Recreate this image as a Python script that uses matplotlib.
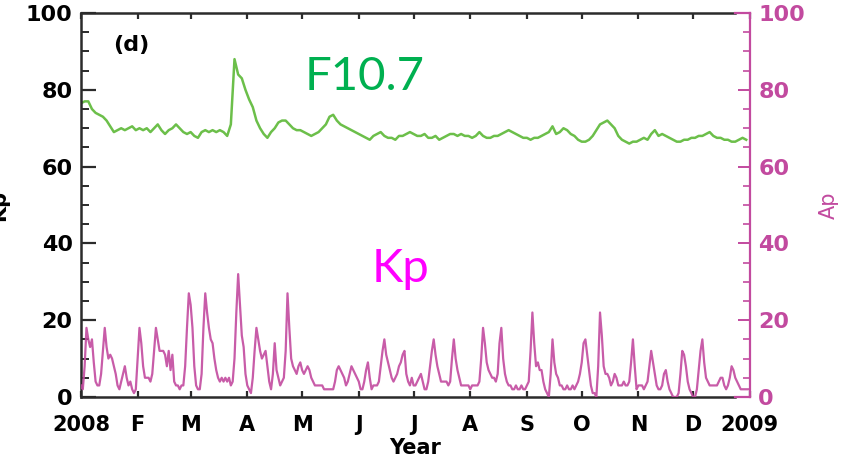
import numpy as np
import matplotlib
matplotlib.use("Agg")
import matplotlib.pyplot as plt

# daily Ap index for 2008, starting 1 Jan
ap = [3, 2, 8, 18, 15, 13, 15, 9, 4, 3, 3, 6, 12, 18, 13, 10, 11, 10, 8, 6,
      3, 2, 4, 6, 8, 5, 3, 4, 2, 1, 2, 10, 18, 14, 8, 5, 5, 5, 4, 6,
      12, 18, 15, 12, 12, 12, 11, 8, 12, 7, 11, 4, 3, 3, 2, 3, 3, 8, 18, 27,
      24, 18, 8, 3, 2, 2, 6, 18, 27, 22, 18, 15, 14, 10, 7, 5, 4, 5, 4, 5,
      4, 5, 3, 4, 10, 22, 32, 24, 16, 13, 6, 3, 2, 1, 5, 12, 18, 15, 12, 10,
      11, 12, 8, 4, 2, 6, 14, 7, 5, 3, 4, 5, 12, 27, 18, 10, 8, 7, 6, 8,
      9, 7, 6, 7, 8, 7, 5, 4, 3, 3, 3, 3, 3, 2, 2, 2, 2, 2, 2, 4,
      7, 8, 7, 6, 5, 3, 4, 6, 8, 7, 6, 5, 4, 2, 2, 4, 7, 9, 5, 2,
      3, 3, 3, 4, 8, 12, 15, 11, 9, 7, 5, 4, 5, 6, 8, 9, 11, 12, 6, 4,
      3, 5, 3, 3, 4, 5, 6, 4, 2, 2, 4, 8, 12, 15, 11, 8, 6, 4, 4, 4,
      4, 3, 4, 10, 15, 10, 7, 5, 3, 3, 3, 3, 3, 2, 3, 3, 3, 3, 4, 10,
      18, 14, 9, 7, 6, 5, 5, 4, 6, 14, 18, 10, 6, 4, 3, 3, 2, 2, 3, 2,
      2, 3, 2, 2, 3, 4, 12, 22, 14, 8, 9, 7, 7, 4, 2, 1, 0, 6, 15, 9,
      6, 5, 3, 3, 2, 2, 3, 2, 2, 3, 2, 3, 4, 6, 9, 14, 15, 11, 7, 3,
      1, 1, 0, 8, 22, 16, 8, 6, 6, 5, 3, 4, 6, 5, 3, 3, 3, 4, 3, 3,
      4, 9, 15, 8, 2, 3, 3, 3, 2, 3, 4, 8, 12, 9, 6, 3, 2, 2, 3, 6,
      7, 4, 2, 1, 0, 0, 0, 1, 6, 12, 11, 8, 4, 2, 1, 0, 0, 2, 7, 12,
      15, 9, 5, 4, 3, 3, 3, 3, 3, 4, 5, 5, 3, 2, 3, 5, 8, 7, 5, 4,
      3, 2, 2, 2, 2, 2]

# F10.7 solar flux, every second day
f107 = [76.5, 77, 77, 75, 74, 73.5, 73, 72, 70.5, 69, 69.5, 70, 69.5, 70, 70.5, 69.5,
        70, 69.5, 70, 69, 70, 71, 69.5, 68.5, 69.5, 70, 71, 70, 69, 68.5, 69, 68,
        67.5, 69, 69.5, 69, 69.5, 69, 69.5, 69, 68, 71, 88, 84, 83, 80, 77.5, 75.5,
        72, 70, 68.5, 67.5, 69, 70, 71.5, 72, 72, 71, 70, 69.5, 69.5, 69, 68.5, 68,
        68.5, 69, 70, 71, 73, 73.5, 72, 71, 70.5, 70, 69.5, 69, 68.5, 68, 67.5, 67,
        68, 68.5, 69, 68, 67.5, 67.5, 67, 68, 68, 68.5, 69, 68.5, 68, 68, 68.5, 67.5,
        67.5, 68, 67, 67.5, 68, 68.5, 68.5, 68, 68.5, 68, 68, 67.5, 68, 69, 68, 67.5,
        67.5, 68, 68, 68.5, 69, 69.5, 69, 68.5, 68, 67.5, 67.5, 67, 67.5, 67.5, 68, 68.5,
        69, 70.5, 68.5, 69, 70, 69.5, 68.5, 68, 67, 66.5, 66.5, 67, 68, 69.5, 71, 71.5,
        72, 71, 70, 68, 67, 66.5, 66, 66.5, 66.5, 67, 67.5, 67, 68.5, 69.5, 68, 68.5,
        68, 67.5, 67, 66.5, 66.5, 67, 67, 67.5, 67.5, 68, 68, 68.5, 69, 68, 67.5, 67.5,
        67, 67, 66.5, 66.5, 67, 67.5, 67]

month_days = [0, 31, 60, 91, 121, 152, 182, 213, 244, 274, 305, 335, 366]
month_labels = ["2008", "F", "M", "A", "M", "J", "J", "A", "S", "O", "N", "D", "2009"]

green = "#6cbf4a"
pink = "#c24a9f"
axis_gray = "#2b2b2b"

plt.rcParams["font.family"] = "DejaVu Sans"
plt.rcParams["font.weight"] = "bold"

fig = plt.figure(figsize=(8.57, 4.67), dpi=100)
ax = fig.add_axes([0.0945, 0.150, 0.7805, 0.822])
ax2 = ax.twinx()

f_day = np.arange(len(f107)) * 2
ap_day = np.arange(len(ap))
ax.plot(f_day, f107, color=green, lw=1.8)
ax2.plot(ap_day, ap, color=pink, lw=1.6, alpha=0.9)

for a in (ax, ax2):
    a.set_xlim(0, 366)
    a.set_ylim(0, 100)

ax.set_xticks(month_days)
ax.set_xticklabels(month_labels)
ax.set_yticks(np.arange(0, 101, 20))
ax.set_yticks(np.arange(0, 101, 5), minor=True)
ax2.set_yticks(np.arange(0, 101, 20))
ax2.set_yticks(np.arange(0, 101, 5), minor=True)

ax.tick_params(axis="y", which="major", direction="in", length=11, width=1.6,
               color=axis_gray, labelsize=16, pad=6)
ax.tick_params(axis="y", which="minor", direction="in", length=6, width=1.4,
               color=axis_gray)
ax.tick_params(axis="x", which="major", direction="in", length=4, width=1.6,
               color=axis_gray, labelsize=15, pad=13, top=True)
ax2.tick_params(axis="y", which="major", direction="in", length=9, width=1.4,
                color=pink, labelcolor=pink, labelsize=16, pad=6)
ax2.tick_params(axis="y", which="minor", direction="in", length=5, width=1.2,
                color=pink)

for name in ("left", "top", "bottom"):
    ax.spines[name].set_color(axis_gray)
    ax.spines[name].set_linewidth(1.8)
ax.spines["top"].set_bounds(0, 358)
ax.spines["bottom"].set_bounds(0, 358)
ax.spines["right"].set_visible(False)
ax2.spines["left"].set_visible(False)
ax2.spines["right"].set_color(pink)
ax2.spines["right"].set_linewidth(1.6)
for name in ("top", "bottom"):
    ax2.spines[name].set_color(pink)
    ax2.spines[name].set_linewidth(1.6)
    ax2.spines[name].set_bounds(358, 366)

ax.set_xlabel("Year", fontsize=15, fontweight="bold", labelpad=2)
ax.set_ylabel("Kp", fontsize=15, fontweight="bold", labelpad=12)
ax2.set_ylabel("Ap", fontsize=15, color=pink, labelpad=10)

ax.text(0.048, 0.917, "(d)", transform=ax.transAxes, fontsize=16,
        fontweight="bold", va="center", ha="left")

fig.text(0.356, 0.807, "F10.7", color="#00b050", fontsize=34,
         family="Lato", fontweight="normal", va="baseline")
fig.text(0.434, 0.396, "Kp", color="#ff00ff", fontsize=34,
         family="Lato", fontweight="normal", va="baseline")

fig.savefig("out.png", dpi=100)
